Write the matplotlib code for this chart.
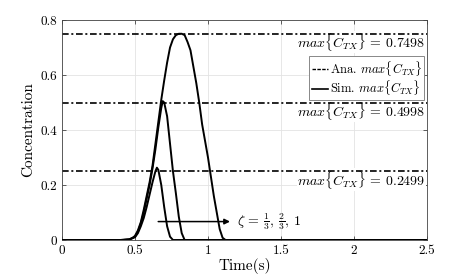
import matplotlib
matplotlib.use('Agg')
import matplotlib.pyplot as plt

plt.rcParams['font.family'] = 'serif'
plt.rcParams['font.serif'] = ['cmr10']
plt.rcParams['mathtext.fontset'] = 'cm'
plt.rcParams['axes.formatter.use_mathtext'] = True

### data
ana_max = [0.2499, 0.4998, 0.7498]

t1 = [0, 0.40, 0.46, 0.50, 0.52, 0.54, 0.56, 0.58, 0.60, 0.62, 0.64, 0.65,
      0.66, 0.68, 0.70, 0.72, 0.74, 0.76, 2.5]
c1 = [0, 0, 0.002, 0.01, 0.025, 0.05, 0.08, 0.12, 0.165, 0.21, 0.25, 0.263,
      0.255, 0.20, 0.12, 0.05, 0.012, 0, 0]

t2 = [0, 0.40, 0.46, 0.50, 0.52, 0.54, 0.56, 0.58, 0.60, 0.62, 0.64, 0.66,
      0.68, 0.69, 0.70, 0.72, 0.74, 0.76, 0.78, 0.80, 0.82, 0.84, 2.5]
c2 = [0, 0, 0.002, 0.012, 0.03, 0.06, 0.10, 0.15, 0.20, 0.26, 0.33, 0.41,
      0.48, 0.505, 0.50, 0.45, 0.35, 0.25, 0.17, 0.085, 0.025, 0, 0]

t3 = [0, 0.42, 0.46, 0.48, 0.50, 0.52, 0.54, 0.56, 0.58, 0.60, 0.62, 0.64,
      0.66, 0.68, 0.70, 0.72, 0.74, 0.76, 0.78, 0.80, 0.82, 0.84, 0.86, 0.88,
      0.90, 0.92, 0.94, 0.96, 0.98, 1.00, 1.02, 1.04, 1.06, 1.08, 1.10, 1.12, 2.5]
c3 = [0, 0, 0.002, 0.006, 0.015, 0.035, 0.065, 0.11, 0.16, 0.21, 0.27, 0.35,
      0.43, 0.51, 0.58, 0.645, 0.70, 0.73, 0.745, 0.75, 0.75, 0.745, 0.72, 0.69,
      0.63, 0.57, 0.50, 0.42, 0.36, 0.30, 0.23, 0.16, 0.10, 0.04, 0.008, 0, 0]

xticks = [0, 0.5, 1, 1.5, 2, 2.5]
yticks = [0, 0.2, 0.4, 0.6, 0.8]

dashdot = (0, (4, 1.6, 1.2, 1.6))

fig = plt.figure(figsize=(4.71, 2.79), dpi=100)
ax = fig.add_axes([0.1316, 0.1398, 0.775, 0.7885])

for v in ana_max:
    ax.axhline(v, color='black', linestyle=dashdot, linewidth=1.2, zorder=2)
    ax.text(2.49, v + 0.01, r'$max\{C_{TX}\}$ = %.4f' % v, ha='right', va='top',
            fontsize=10, zorder=1.5,
            bbox=dict(facecolor='white', edgecolor='none', pad=0.3))

for t, c in [(t1, c1), (t2, c2), (t3, c3)]:
    ax.plot(t, c, color='black', linewidth=1.4, zorder=3)

# legend handles
ax.plot([], [], color='black', linestyle=(0, (2.5, 1)), linewidth=1.0, label=r'Ana. $max\{C_{TX}\}$')
ax.plot([], [], color='black', linestyle='-', linewidth=1.2, label=r'Sim. $max\{C_{TX}\}$')
leg = ax.legend(loc='upper right', bbox_to_anchor=(0.993, 0.835), fontsize=9,
                handlelength=1.3, handletextpad=0.15, borderpad=0.2, labelspacing=0.05,
                borderaxespad=0, fancybox=False, framealpha=1)
leg.get_frame().set_edgecolor('#888888')
leg.get_frame().set_linewidth(0.7)

ax.annotate('', xy=(1.17, 0.067), xytext=(0.64, 0.067),
            arrowprops=dict(arrowstyle='-|>', color='black', lw=1.1, mutation_scale=8))
ax.text(1.2, 0.067, r'$\zeta$ = $\frac{1}{3}$, $\frac{2}{3}$, 1', ha='left', va='center', fontsize=10)

ax.set_xlim(0, 2.5)
ax.set_ylim(0, 0.8)
ax.set_xticks(xticks)
ax.set_yticks(yticks)
ax.set_xticklabels(['0', '0.5', '1', '1.5', '2', '2.5'])
ax.set_yticklabels(['0', '0.2', '0.4', '0.6', '0.8'])
ax.tick_params(direction='in', labelsize=9.5, length=3, width=0.6, color='#444444',
               top=True, right=True)
ax.grid(True, color='#e3e3e3', linewidth=0.6)
ax.set_axisbelow(True)
for s in ax.spines.values():
    s.set_color('#444444')
    s.set_linewidth(0.6)

ax.set_xlabel('Time(s)', fontsize=11, labelpad=1)
ax.set_ylabel('Concentration', fontsize=11, labelpad=4)

fig.savefig('out.png', dpi=100)
